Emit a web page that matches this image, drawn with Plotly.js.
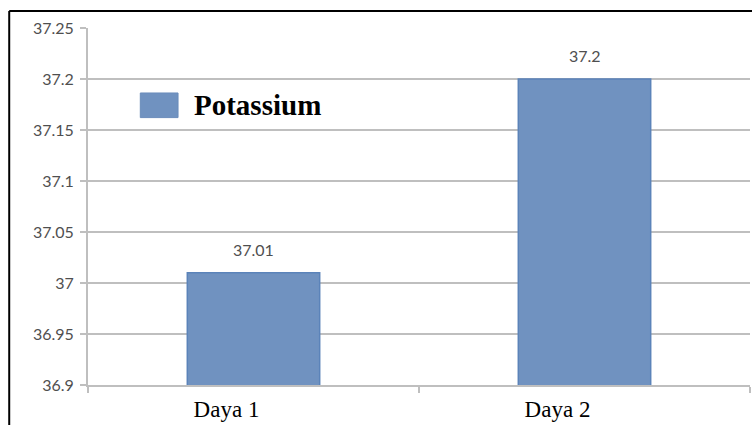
<!DOCTYPE html>
<html>
<head>
<meta charset="utf-8">
<script src="https://cdn.plot.ly/plotly-3.0.1.min.js"></script>
<style>
  html, body { margin: 0; padding: 0; background: #fff; }
  #plot { width: 752px; height: 425px; }
</style>
</head>
<body>
<div id="plot"></div>
<script>
const categories = ["Daya 1", "Daya 2"];
const potassium = [37.01, 37.2];
const seriesName = "Potassium";
const yTicks = [36.9, 36.95, 37, 37.05, 37.1, 37.15, 37.2, 37.25];
const yTickText = ["36.9", "36.95", "37", "37.05", "37.1", "37.15", "37.2", "37.25"];

const barColor = "#7092c0";
const gridColor = "#bfbfbf";
const labelFont = { family: "Lato, 'Liberation Sans', sans-serif", size: 16, color: "#4f4f4f" };

let trace = {
    x: categories,
    y: potassium,
    type: "bar",
    name: seriesName,
    marker: { color: barColor, line: { color: "#5b83b9", width: 1.5 } },
    showlegend: false,
    hoverinfo: "x+y"
};

// value labels above the bars
let valueLabels = categories.map((c, i) => ({
    x: c, y: potassium[i], xref: "x", yref: "y",
    text: String(potassium[i]), showarrow: false,
    yanchor: "bottom", yshift: 12, font: labelFont
}));

let layout = {
    width: 752,
    height: 425,
    margin: { l: 88, r: 2, t: 28, b: 40 },
    paper_bgcolor: "#ffffff",
    plot_bgcolor: "#ffffff",
    bargap: 0.6,
    showlegend: false,
    xaxis: {
        type: "category",
        tickson: "boundaries",
        ticks: "outside",
        ticklen: 6,
        tickcolor: gridColor,
        tickwidth: 2,
        showgrid: false,
        showline: true,
        linecolor: gridColor,
        linewidth: 2,
        ticklabelshift: -27,
        ticklabelstandoff: 2,
        tickfont: { family: "'Liberation Serif', 'Times New Roman', serif", size: 23, color: "#000000" },
        fixedrange: true
    },
    yaxis: {
        range: [36.9, 37.25],
        autorange: false,
        tickvals: yTicks,
        ticktext: yTickText,
        ticks: "outside",
        ticklen: 6,
        tickcolor: gridColor,
        tickwidth: 2,
        showgrid: true,
        gridcolor: gridColor,
        gridwidth: 2,
        zeroline: false,
        showline: true,
        linecolor: gridColor,
        linewidth: 2,
        ticklabelstandoff: 3,
        tickfont: labelFont,
        fixedrange: true
    },
    shapes: [
        // outer frame (left and top edges)
        { type: "line", xref: "paper", yref: "paper", x0: -0.119, x1: -0.119, y0: -0.12, y1: 1.0476,
          line: { color: "#000000", width: 2 } },
        { type: "line", xref: "paper", yref: "paper", x0: -0.119, x1: 1.01, y0: 1.0476, y1: 1.0476,
          line: { color: "#000000", width: 2 } },
        // legend swatch
        { type: "rect", xref: "paper", yref: "paper", x0: 0.079, x1: 0.136, y0: 0.749, y1: 0.818,
          fillcolor: barColor, line: { color: "#6a8cbb", width: 1 } }
    ],
    annotations: valueLabels.concat([
        { xref: "paper", yref: "paper", x: 0.157, y: 0.784, xanchor: "left", yanchor: "middle",
          text: "<b>" + seriesName + "</b>", showarrow: false,
          font: { family: "'Liberation Serif', 'Times New Roman', serif", size: 29, color: "#000000" } }
    ])
};

Plotly.newPlot("plot", [trace], layout, { displayModeBar: false, staticPlot: true });
</script>
</body>
</html>
